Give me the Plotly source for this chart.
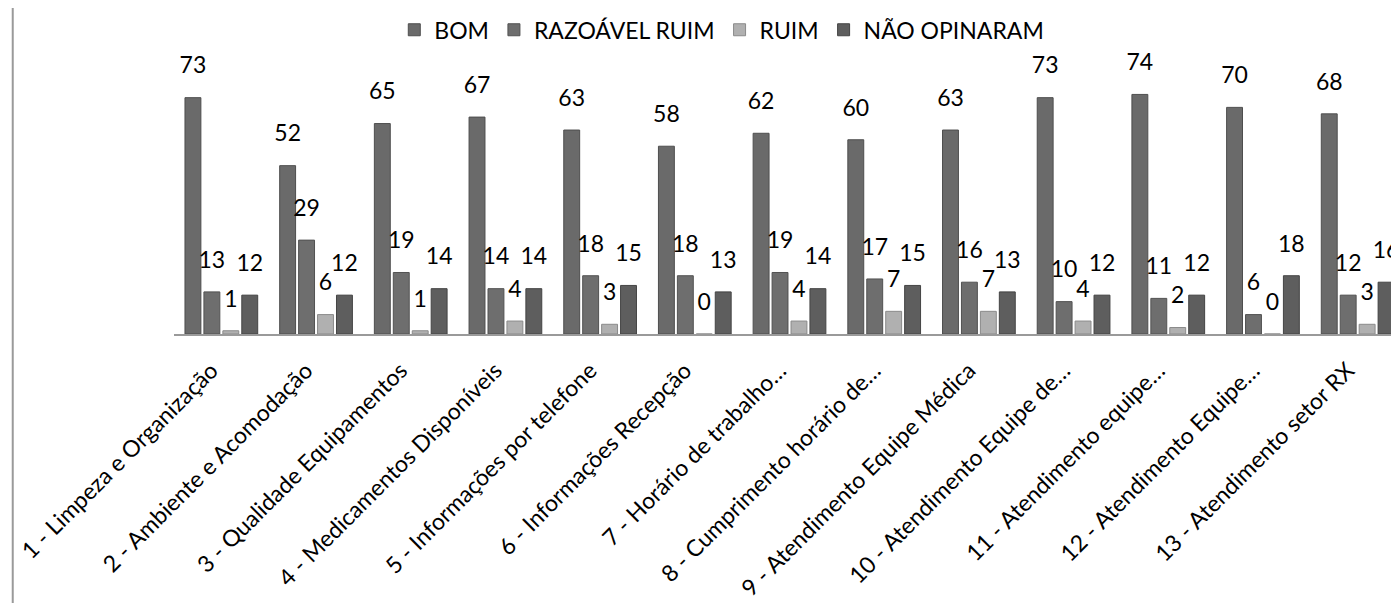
import plotly.graph_objects as go

categories = [
    "1 - Limpeza e Organização",
    "2 - Ambiente e Acomodação",
    "3 - Qualidade Equipamentos",
    "4 - Medicamentos Disponíveis",
    "5 - Informações por telefone",
    "6 - Informações Recepção",
    "7 - Horário de trabalho…",
    "8 - Cumprimento horário de…",
    "9 - Atendimento Equipe Médica",
    "10 - Atendimento Equipe de…",
    "11 - Atendimento equipe…",
    "12 - Atendimento Equipe…",
    "13 - Atendimento setor RX",
]
series_names = ["BOM", "RAZOÁVEL RUIM", "RUIM", "NÃO OPINARAM"]
bom = [73, 52, 65, 67, 63, 58, 62, 60, 63, 73, 74, 70, 68]
razoavel = [13, 29, 19, 14, 18, 18, 19, 17, 16, 10, 11, 6, 12]
ruim = [1, 6, 1, 4, 3, 0, 4, 7, 7, 4, 2, 0, 3]
nao_opinaram = [12, 12, 14, 14, 15, 13, 14, 15, 13, 12, 12, 18, 16]

colors = ["#6a6a6a", "#6e6e6e", "#b0b0b0", "#5e5e5e"]
line_colors = ["#4e4e4e", "#525252", "#8a8a8a", "#444444"]
FONT = "Lato"
LABEL_GAP = 5  # vertical room (in axis units) between bar top and its label

fig = go.Figure()
for i, (name, vals, c, lc) in enumerate(zip(series_names, [bom, razoavel, ruim, nao_opinaram], colors, line_colors)):
    grp = f"g{i}"
    fig.add_trace(go.Bar(
        x=categories, y=vals, name=name, offsetgroup=grp,
        marker=dict(color=c, line=dict(color=lc, width=1)),
    ))
    # transparent spacer sitting on the bar, carrying the value label above it
    fig.add_trace(go.Bar(
        x=categories, y=[LABEL_GAP] * len(vals), base=vals, offsetgroup=grp,
        marker=dict(color="rgba(0,0,0,0)", line=dict(width=0)),
        text=[str(v) for v in vals], textposition="outside",
        textfont=dict(family=FONT, size=23, color="#000000"),
        constraintext="none", cliponaxis=False, showlegend=False, hoverinfo="skip",
    ))

fig.update_layout(
    width=1399, height=603,
    margin=dict(l=166, r=2, t=66, b=277),
    paper_bgcolor="white", plot_bgcolor="white",
    barmode="group", bargap=0.2, bargroupgap=0.16,
    font=dict(family=FONT, size=23, color="#000000"),
    showlegend=True,
    legend=dict(orientation="h", x=0.445, xanchor="center", y=1.17, yanchor="middle",
                font=dict(family=FONT, size=23, color="#000000"),
                itemwidth=30, tracegroupgap=0, bgcolor="rgba(0,0,0,0)"),
    xaxis=dict(tickangle=-45, showline=True, linecolor="#9a9a9a", linewidth=2,
               ticks="", showgrid=False, ticklabelshift=-10, ticklabelstandoff=12,
               tickfont=dict(family=FONT, size=23, color="#000000")),
    yaxis=dict(range=[0, 80], visible=False, showgrid=False, zeroline=False),
    shapes=[dict(type="line", xref="paper", yref="paper", x0=-0.131, x1=-0.131,
                 y0=-1.07, y1=1.26, line=dict(color="#9a9a9a", width=2))],
)

fig.write_html("out.html")
